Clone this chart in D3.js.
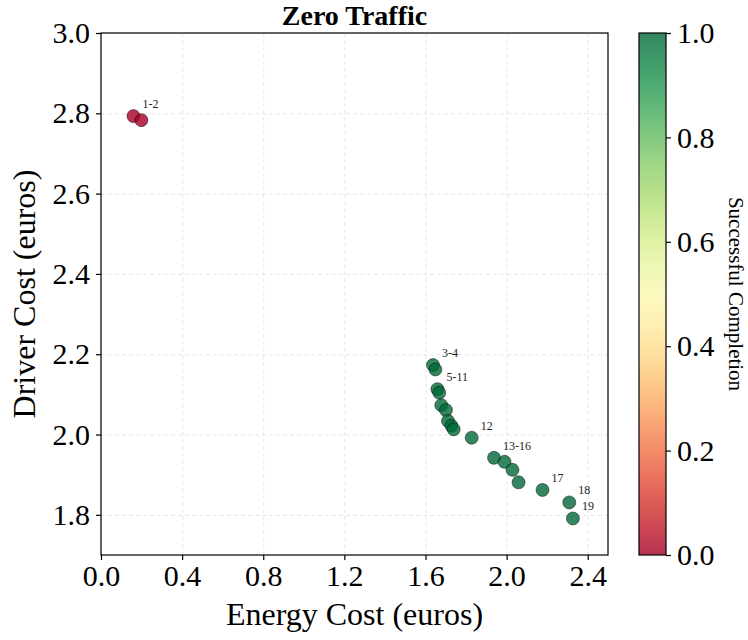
<!DOCTYPE html>
<html>
<head>
<meta charset="utf-8">
<script src="https://cdn.jsdelivr.net/npm/d3@7"></script>
<style>
  body { margin: 0; background: #fff; }
  svg, svg text { font-family: "Liberation Serif", "Times New Roman", serif; }
  .grid line { stroke: #e0e0e0; stroke-dasharray: 4,3; stroke-width: 0.8; }
  .grid path { display: none; }
  .axis text { font-size: 30px; fill: #000; font-family: "Liberation Serif", serif; }
  .axis line { stroke: #000; stroke-width: 1.2; }
</style>
</head>
<body>
<div id="chart"></div>
<script>
// data
var energyCost = [0.160, 0.199,
  1.637, 1.649, 1.659, 1.668, 1.678, 1.701, 1.711, 1.728, 1.739,
  1.828, 1.938, 1.990, 2.029, 2.059, 2.177, 2.309, 2.327];
var driverCost = [2.793, 2.783,
  2.173, 2.162, 2.113, 2.104, 2.073, 2.061, 2.034, 2.022, 2.013,
  1.992, 1.942, 1.932, 1.912, 1.881, 1.862, 1.831, 1.791];
var completion = [0, 0,
  1, 1, 1, 1, 1, 1, 1, 1, 1,
  1, 1, 1, 1, 1, 1, 1, 1];
// label text and the index of the point it is attached to
var labelText = ["1-2", "3-4", "5-11", "12", "13-16", "17", "18", "19"];
var labelIndex = [0, 2, 4, 11, 12, 16, 17, 18];

var xTicks = [0.0, 0.4, 0.8, 1.2, 1.6, 2.0, 2.4];
var yTicks = [1.8, 2.0, 2.2, 2.4, 2.6, 2.8, 3.0];
var cbTicks = [0.0, 0.2, 0.4, 0.6, 0.8, 1.0];

var W = 748, H = 640;
var margin = {top: 33, left: 101},
    width = 507,
    height = 522;

var xScale = d3.scaleLinear().domain([0, 2.5]).range([0, width]);
var yScale = d3.scaleLinear().domain([1.7, 3.0]).range([height, 0]);
var color = function(v) {
  var c = d3.color(d3.interpolateRdYlGn(v));
  c.opacity = 0.8;
  return c + "";
};

var svg = d3.select("#chart").append("svg")
    .attr("width", W)
    .attr("height", H);

var g = svg.append("g")
    .attr("transform", "translate(" + margin.left + "," + margin.top + ")");

// grid
g.append("g")
    .attr("class", "grid")
    .attr("transform", "translate(0," + height + ")")
    .call(d3.axisBottom(xScale).tickValues(xTicks).tickSize(-height).tickFormat(""));
g.append("g")
    .attr("class", "grid")
    .call(d3.axisLeft(yScale).tickValues(yTicks).tickSize(-width).tickFormat(""));

// points
var pts = d3.range(energyCost.length);
g.selectAll(".dot")
    .data(pts)
  .enter().append("circle")
    .attr("class", "dot")
    .attr("r", 6.5)
    .attr("cx", function(i) { return xScale(energyCost[i]); })
    .attr("cy", function(i) { return yScale(driverCost[i]); })
    .attr("fill", function(i) { return color(completion[i]); })
    .attr("stroke", "rgba(0,0,0,0.75)")
    .attr("stroke-width", 0.6);

// point labels
g.selectAll(".plabel")
    .data(labelText)
  .enter().append("text")
    .attr("class", "plabel")
    .attr("x", function(d, k) { return xScale(energyCost[labelIndex[k]]) + 9; })
    .attr("y", function(d, k) { return yScale(driverCost[labelIndex[k]]) - 8; })
    .attr("font-size", "12px")
    .attr("fill", "#222")
    .text(function(d) { return d; });

// frame
g.append("rect")
    .attr("width", width)
    .attr("height", height)
    .attr("fill", "none")
    .attr("stroke", "#000")
    .attr("stroke-width", 1.2);

// axes
g.append("g")
    .attr("class", "axis")
    .attr("transform", "translate(0," + height + ")")
    .call(d3.axisBottom(xScale).tickValues(xTicks).tickSize(5).tickPadding(5).tickFormat(d3.format(".1f")))
    .select(".domain").remove();
g.append("g")
    .attr("class", "axis")
    .call(d3.axisLeft(yScale).tickValues(yTicks).tickSize(5).tickPadding(6).tickFormat(d3.format(".1f")))
    .select(".domain").remove();

// titles
svg.append("text")
    .attr("x", margin.left + width / 2)
    .attr("y", 25)
    .attr("text-anchor", "middle")
    .attr("font-size", "28px")
    .attr("font-weight", "bold")
    .text("Zero Traffic");
svg.append("text")
    .attr("x", margin.left + width / 2)
    .attr("y", 625)
    .attr("text-anchor", "middle")
    .attr("font-size", "32px")
    .text("Energy Cost (euros)");
svg.append("text")
    .attr("transform", "translate(35," + (margin.top + height / 2) + ") rotate(-90)")
    .attr("text-anchor", "middle")
    .attr("font-size", "32px")
    .text("Driver Cost (euros)");

// colorbar
var cbX = 639, cbW = 27;
var cbScale = d3.scaleLinear().domain([0, 1]).range([height, 0]);
var defs = svg.append("defs");
var grad = defs.append("linearGradient")
    .attr("id", "cbgrad")
    .attr("x1", "0").attr("y1", "1").attr("x2", "0").attr("y2", "0");
grad.selectAll("stop")
    .data(d3.range(0, 1.0001, 0.05))
  .enter().append("stop")
    .attr("offset", function(d) { return d; })
    .attr("stop-color", function(d) { return d3.interpolateRdYlGn(d); })
    .attr("stop-opacity", 0.8);

var cb = svg.append("g")
    .attr("transform", "translate(" + cbX + "," + margin.top + ")");
cb.append("rect")
    .attr("width", cbW)
    .attr("height", height)
    .attr("fill", "url(#cbgrad)")
    .attr("stroke", "#000")
    .attr("stroke-width", 1.2);
cb.append("g")
    .attr("class", "axis")
    .attr("transform", "translate(" + cbW + ",0)")
    .call(d3.axisRight(cbScale).tickValues(cbTicks).tickSize(5).tickPadding(6).tickFormat(d3.format(".1f")))
    .select(".domain").remove();

svg.append("text")
    .attr("transform", "translate(729," + (margin.top + height / 2) + ") rotate(90)")
    .attr("text-anchor", "middle")
    .attr("font-size", "21px")
    .text("Successful Completion");
</script>
</body>
</html>
